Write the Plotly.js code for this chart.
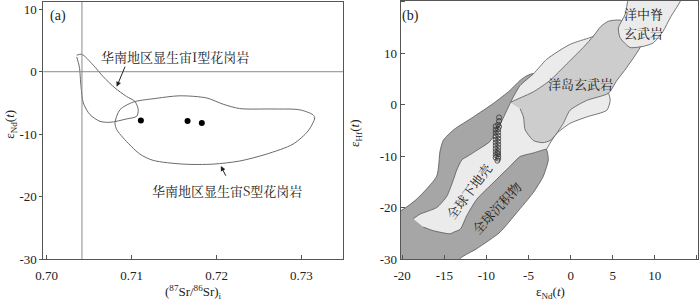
<!DOCTYPE html>
<html><head><meta charset="utf-8">
<script src="https://cdn.plot.ly/plotly-3.0.1.min.js"></script>
<style>html,body{margin:0;padding:0;background:#fff}#c{width:700px;height:303px}</style>
</head><body><div id="c"></div>
<script>
// ---- Panel (a): Sr-Nd ----
const aXTicks = [0.70, 0.71, 0.72, 0.73];
const aXTickText = ['0.70', '0.71', '0.72', '0.73'];
const aYTicks = [-30, -20, -10, 0, 10];
const aYTickText = ['-30', '-20', '-10', '0', '10'];
const iTypeSr = [0.70353, 0.70412, 0.70548, 0.70666, 0.70804, 0.70941, 0.71039, 0.71078, 0.71059, 0.70941, 0.70745, 0.70627, 0.70509, 0.70431, 0.70404, 0.70384, 0.70353];
const iTypeNd = [2.65, 2.8, 1.06, -0.8, -2.6, -3.97, -4.76, -6.08, -7.14, -7.56, -8.1, -7.94, -6.87, -5.0, -2.38, 0.8, 2.38];
const sTypeSr = [0.70804, 0.70862, 0.71019, 0.71254, 0.71568, 0.71882, 0.72078, 0.72274, 0.72666, 0.7298, 0.73137, 0.73157, 0.73078, 0.72901, 0.72588, 0.72274, 0.7196, 0.71607, 0.71254, 0.71098, 0.70901, 0.70824, 0.70804];
const sTypeNd = [-8.2, -6.1, -4.86, -4.33, -3.86, -4.2, -5.2, -5.9, -5.97, -6.1, -6.9, -7.4, -9.5, -11.6, -13.2, -14.3, -14.8, -14.8, -14.2, -13.2, -10.6, -9.25, -8.2];
const sampleSr = [0.71109, 0.71659, 0.71827];
const sampleNd = [-7.83, -7.9, -8.2];
const bulkEarthSr = 0.70415;
const bulkEarthNd = 0;

// ---- Panel (b): Nd-Hf ----
const bXTicks = [-20, -15, -10, -5, 0, 5, 10, 15];
const bXTickText = ['-20', '-15', '-10', '-5', '0', '5', '10', '15'];
const bYTicks = [-30, -20, -10, 0, 10, 20];
const bYTickText = ['-30', '-20', '-10', '0', '10', '20'];
const sedNd = [-22, -22, -20.2, -18.3, -15.9, -15.5, -15.1, -13.9, -11.55, -9.2, -7.2, -6.0, -5.2, -4.4, -4.0, -3.3, -2.84, -2.65, -3.24, -4.43, -6.4, -8.4, -11.15, -13.1, -13.6, -22];
const sedHf = [-32, -21.5, -20.65, -18.4, -13.9, -9.0, -6.9, -4.9, -2.4, 0.2, 2.75, 4.7, 5.6, 6.0, 0, -8, -8.8, -10.7, -13.9, -17.1, -21, -24.8, -28.0, -29.9, -32, -32];
const crustNd = [-18.7, -17.9, -15.9, -14.7, -13.9, -13.5, -12.9, -12.3, -10.76, -9.6, -8.8, -8.0, -7.2, -6.8, -6.0, -4.4, -2.84, -0.07, 2.3, 2.9, 3.6, 4.48, 4.7, 4.3, 1.9, -0.07, -1.65, -2.45, -2.84, -3.24, -4.43, -6.0, -7.2, -9.2, -11.15, -12.34, -13.1, -13.9, -14.3, -16.3, -17.5];
const crustHf = [-22.2, -21.3, -20.0, -17.8, -14.5, -12.6, -10.7, -10.1, -8.5, -7.2, -5.2, -2.6, 0.2, 1.5, 3.7, 6.0, 8.8, 11.7, 13.0, 13.3, 8.0, 2.4, 0.83, -1.1, -2.4, -3.65, -5.6, -7.5, -8.6, -8.8, -9.4, -10.1, -12.0, -15.2, -18.4, -21.6, -24.2, -24.8, -25.1, -24.5, -23.8];
const oibNd = [-7.2, -6.4, -4.4, -2.45, -0.46, 1.5, 2.7, 3.6, 4.5, 5.9, 7.2, 8.6, 6.66, 5.5, 4.48, 1.9, -0.07, -0.87, -1.85, -2.45, -3.3, -4.4, -5.4, -5.6, -6.0];
const oibHf = [0.4, 1.0, 2.5, 4.7, 7.9, 11.1, 13.3, 15.2, 16.2, 16.4, 15.0, 12.5, 7.2, 4.7, 2.2, 0.8, -1.1, -3.65, -6.0, -7.0, -7.4, -7.0, -4.9, -2.4, -0.8];
const morbNd = [6.9, 6.46, 5.67, 5.87, 7.06, 8.84, 9.82, 11.0, 11.8, 13.0, 13.4];
const morbHf = [21.5, 17.5, 14.9, 13.0, 11.1, 11.4, 12.0, 14.3, 16.8, 20.0, 21.5];
const zirconNd = [-8.5, -8.5, -8.6, -8.5, -8.9, -8.6, -8.9, -8.6, -8.9, -8.6, -8.9, -8.6, -8.9, -8.6, -8.9, -8.6, -8.9, -8.6, -8.9, -8.6, -8.9, -8.6, -8.9, -8.6, -8.9, -8.6, -8.7, -8.7];
const zirconHf = [-2.5, -3.2, -3.9, -4.3, -4.2, -4.8, -4.9, -5.4, -5.5, -6.0, -6.2, -6.6, -6.8, -7.2, -7.4, -7.8, -8.0, -8.4, -8.6, -9.0, -9.2, -9.6, -9.8, -10.1, -10.3, -10.5, -10.9, -9.4];

const serif = 'Liberation Serif, Times New Roman, serif';
const cjk = 'Noto Serif CJK SC, Noto Sans CJK SC, sans-serif';
const frame = '#555';

const traces = [
  {x: iTypeSr, y: iTypeNd, xaxis: 'x', yaxis: 'y', mode: 'lines', line: {color: '#6a6a6a', width: 1, shape: 'spline', smoothing: 0.8}, hoverinfo: 'skip'},
  {x: sTypeSr, y: sTypeNd, xaxis: 'x', yaxis: 'y', mode: 'lines', line: {color: '#6a6a6a', width: 1, shape: 'spline', smoothing: 0.8}, hoverinfo: 'skip'},
  {x: sampleSr, y: sampleNd, xaxis: 'x', yaxis: 'y', mode: 'markers', marker: {color: '#000', size: 6}},
  {x: sedNd, y: sedHf, xaxis: 'x2', yaxis: 'y2', mode: 'lines', fill: 'toself', fillcolor: '#a6a6a6', line: {color: '#555', width: 0.8, shape: 'spline', smoothing: 0.6}},
  {x: crustNd, y: crustHf, xaxis: 'x2', yaxis: 'y2', mode: 'lines', fill: 'toself', fillcolor: '#ebebeb', line: {color: '#555', width: 0.8, shape: 'spline', smoothing: 0.6}},
  {x: oibNd, y: oibHf, xaxis: 'x2', yaxis: 'y2', mode: 'lines', fill: 'toself', fillcolor: '#cdcdcd', line: {color: '#555', width: 0.8, shape: 'spline', smoothing: 0.6}},
  {x: morbNd, y: morbHf, xaxis: 'x2', yaxis: 'y2', mode: 'lines', fill: 'toself', fillcolor: '#ebebeb', line: {color: '#555', width: 0.8, shape: 'spline', smoothing: 0.6}},
  {x: zirconNd, y: zirconHf, xaxis: 'x2', yaxis: 'y2', mode: 'markers', marker: {symbol: 'circle-open', color: '#333', size: 5, line: {width: 0.8}}}
];

const tickFont = {family: serif, size: 13, color: '#222'};
const common = {showline: true, mirror: true, linecolor: frame, linewidth: 1, showgrid: false, zeroline: false, tickfont: tickFont, tickcolor: frame};
const layout = {
  width: 700, height: 303, showlegend: false,
  margin: {l: 0, r: 0, t: 0, b: 0},
  paper_bgcolor: '#fff', plot_bgcolor: '#fff',
  xaxis: Object.assign({domain: [0.0619, 0.49], range: [0.6996, 0.7349], tickvals: aXTicks, ticktext: aXTickText, ticks: 'inside', ticklen: 4, ticklabelstandoff: 4, anchor: 'y'}, common),
  yaxis: Object.assign({domain: [0.1452, 0.994], range: [-30, 11.2], tickvals: aYTicks, ticktext: aYTickText, ticks: 'outside', ticklen: 3, anchor: 'x'}, common),
  xaxis2: Object.assign({domain: [0.5724, 0.9971], range: [-20.18, 15.12], tickvals: bXTicks, ticktext: bXTickText, ticks: 'inside', ticklen: 4, ticklabelstandoff: 4, anchor: 'y2'}, common),
  yaxis2: Object.assign({domain: [0.1452, 0.998], range: [-30, 20.2], tickvals: bYTicks, ticktext: bYTickText, ticks: 'inside', ticklen: 4, anchor: 'x2'}, common),
  shapes: [
    {type: 'line', xref: 'x', yref: 'y domain', x0: bulkEarthSr, x1: bulkEarthSr, y0: 0, y1: 1, line: {color: '#8a8a8a', width: 1}},
    {type: 'line', xref: 'x domain', yref: 'y', x0: 0, x1: 1, y0: bulkEarthNd, y1: bulkEarthNd, line: {color: '#8a8a8a', width: 1}}
  ],
  annotations: [
    {xref: 'x', yref: 'y', x: 0.70134, y: 9.0, text: '(a)', showarrow: false, font: {family: serif, size: 14, color: '#222'}},
    {xref: 'x', yref: 'y', x: 0.71512, y: 2.4, text: '华南地区显生宙I型花岗岩', showarrow: false, font: {family: cjk, size: 13, color: '#222'}},
    {xref: 'x', yref: 'y', x: 0.72118, y: -19.05, text: '华南地区显生宙S型花岗岩', showarrow: false, font: {family: cjk, size: 13, color: '#222'}},
    {xref: 'x', yref: 'y', axref: 'x', ayref: 'y', x: 0.70824, y: -2.4, ax: 0.7093, ay: 1.05, text: '', showarrow: true, arrowhead: 2, arrowsize: 1, arrowwidth: 1, arrowcolor: '#222'},
    {xref: 'x', yref: 'y', axref: 'x', ayref: 'y', x: 0.72051, y: -15.1, ax: 0.72118, ay: -16.9, text: '', showarrow: true, arrowhead: 2, arrowsize: 1, arrowwidth: 1, arrowcolor: '#222'},
    {xref: 'paper', yref: 'paper', x: 0.015, y: 0.59, xanchor: 'center', yanchor: 'middle', text: 'ε<sub>Nd</sub>(<i>t</i>)', textangle: -90, showarrow: false, font: {family: serif, size: 13, color: '#222'}},
    {xref: 'paper', yref: 'paper', x: 0.276, y: 0.035, xanchor: 'center', yanchor: 'middle', text: '(<sup>87</sup>Sr/<sup>86</sup>Sr)<sub>i</sub>', showarrow: false, font: {family: serif, size: 13, color: '#222'}},
    {xref: 'x2', yref: 'y2', x: -19.07, y: 17.2, text: '(b)', showarrow: false, font: {family: serif, size: 14, color: '#222'}},
    {xref: 'x2', yref: 'y2', x: 8.63, y: 17.6, text: '洋中脊', showarrow: false, font: {family: cjk, size: 13, color: '#222'}},
    {xref: 'x2', yref: 'y2', x: 8.63, y: 14.0, text: '玄武岩', showarrow: false, font: {family: cjk, size: 13, color: '#222'}},
    {xref: 'x2', yref: 'y2', x: 1.12, y: 4.0, text: '洋岛玄武岩', showarrow: false, font: {family: cjk, size: 13, color: '#222'}},
    {xref: 'x2', yref: 'y2', x: -12.15, y: -16.8, text: '全球下地壳', textangle: -53, showarrow: false, font: {family: cjk, size: 13, color: '#222'}},
    {xref: 'x2', yref: 'y2', x: -8.78, y: -20.0, text: '全球沉积物', textangle: -47, showarrow: false, font: {family: cjk, size: 13, color: '#222'}},
    {xref: 'paper', yref: 'paper', x: 0.507, y: 0.561, xanchor: 'center', yanchor: 'middle', text: 'ε<sub>Hf</sub>(<i>t</i>)', textangle: -90, showarrow: false, font: {family: serif, size: 13, color: '#222'}},
    {xref: 'paper', yref: 'paper', x: 0.786, y: 0.035, xanchor: 'center', yanchor: 'middle', text: 'ε<sub>Nd</sub>(<i>t</i>)', showarrow: false, font: {family: serif, size: 13, color: '#222'}}
  ]
};
Plotly.newPlot('c', traces, layout, {staticPlot: true, displayModeBar: false});
</script></body></html>
